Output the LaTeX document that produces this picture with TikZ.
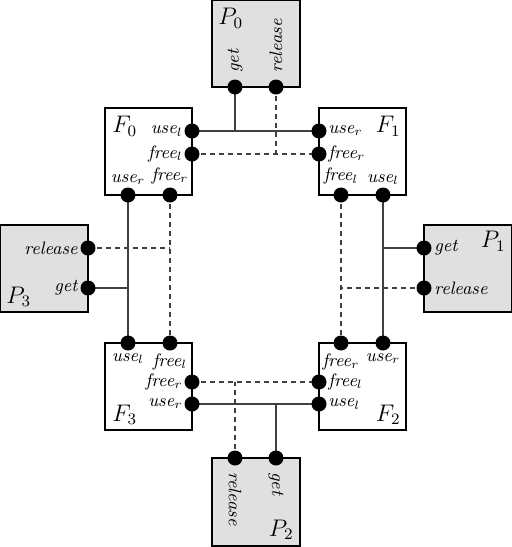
\documentclass[tikz,border=0pt]{standalone}
\usepackage{tikz}
\begin{document}
\begin{tikzpicture}[x=0.5pt,y=-0.5pt,
  fbox/.style={draw=black,fill=white,line width=0.8pt},
  pbox/.style={draw=black,fill=black!12,line width=0.8pt},
  dot/.style={circle,fill=black,inner sep=0pt,minimum size=7.5pt},
  lab/.style={font=\small\itshape,inner sep=1pt},
  big/.style={font=\large,inner sep=1pt},
  sline/.style={black!75,line width=0.6pt},
  dline/.style={black!75,line width=0.6pt,dashed,dash pattern=on 2.5pt off 2pt}]
\useasboundingbox (0,0) rectangle (512,547);
% boxes
\draw[pbox] (212,0) rectangle (300,87);
\draw[fbox] (105,108) rectangle (192,195);
\draw[fbox] (319,108) rectangle (406,195);
\draw[pbox] (0,225) rectangle (88,312);
\draw[pbox] (424,225) rectangle (512,312);
\draw[fbox] (105,343) rectangle (192,430);
\draw[fbox] (319,343) rectangle (406,430);
\draw[pbox] (212,458) rectangle (300,546);
% port coordinates
\coordinate (p0g) at (235,87);  \coordinate (p0r) at (276,87);
\coordinate (f0ul) at (192,131); \coordinate (f0fl) at (192,154);
\coordinate (f0ur) at (128,195); \coordinate (f0fr) at (170,195);
\coordinate (f1ur) at (319,131); \coordinate (f1fr) at (319,154);
\coordinate (f1fl) at (341,195); \coordinate (f1ul) at (383,195);
\coordinate (p3r) at (88,248);   \coordinate (p3g) at (88,288);
\coordinate (p1g) at (424,248);  \coordinate (p1r) at (424,288);
\coordinate (f3ul) at (128,343); \coordinate (f3fl) at (170,343);
\coordinate (f3fr) at (192,382); \coordinate (f3ur) at (192,404);
\coordinate (f2fr) at (341,343); \coordinate (f2ur) at (383,343);
\coordinate (f2fl) at (319,382); \coordinate (f2ul) at (319,404);
\coordinate (p2r) at (235,458);  \coordinate (p2g) at (276,458);
% connectors
\draw[sline] (f0ul) -- (f1ur);
\draw[sline] (p0g) -- (p0g |- f0ul);
\draw[dline] (f0fl) -- (f1fr);
\draw[dline] (p0r) -- (p0r |- f0fl);
\draw[sline] (f0ur) -- (f3ul);
\draw[sline] (p3g) -- (p3g -| f0ur);
\draw[dline] (f0fr) -- (f3fl);
\draw[dline] (p3r) -- (p3r -| f0fr);
\draw[sline] (f1ul) -- (f2ur);
\draw[sline] (p1g) -- (p1g -| f1ul);
\draw[dline] (f1fl) -- (f2fr);
\draw[dline] (p1r) -- (p1r -| f1fl);
\draw[dline] (f3fr) -- (f2fl);
\draw[dline] (p2r) -- (p2r |- f3fr);
\draw[sline] (f3ur) -- (f2ul);
\draw[sline] (p2g) -- (p2g |- f3ur);
% dots
\foreach \c in {p0g,p0r,f0ul,f0fl,f0ur,f0fr,f1ur,f1fr,f1fl,f1ul,p3r,p3g,p1g,p1r,f3ul,f3fl,f3fr,f3ur,f2fr,f2ur,f2fl,f2ul,p2r,p2g}
  \node[dot] (d\c) at (\c) {};
% labels P0
\node[big,anchor=north west] (lP0) at (216,6) {$P_0$};
\node[lab,rotate=90,anchor=west] (lp0g) at (235,75) {get};
\node[lab,rotate=90,anchor=west] (lp0r) at (276,75) {release};
% F0
\node[big,anchor=north west] (lF0) at (110,114) {$F_0$};
\node[lab,anchor=east] (lf0ul) at (185,131) {use$_l$};
\node[lab,anchor=east] (lf0fl) at (185,154) {free$_l$};
\node[lab,anchor=south] (lf0ur) at (128,187) {use$_r$};
\node[lab,anchor=south] (lf0fr) at (170,187) {free$_r$};
% F1
\node[big,anchor=north east] (lF1) at (403,114) {$F_1$};
\node[lab,anchor=west] (lf1ur) at (326,131) {use$_r$};
\node[lab,anchor=west] (lf1fr) at (326,154) {free$_r$};
\node[lab,anchor=south] (lf1fl) at (341,187) {free$_l$};
\node[lab,anchor=south] (lf1ul) at (383,187) {use$_l$};
% P3
\node[big,anchor=south west] (lP3) at (4,309) {$P_3$};
\node[lab,anchor=east] (lp3r) at (80,248) {release};
\node[lab,anchor=east] (lp3g) at (80,288) {get};
% P1
\node[big,anchor=north east] (lP1) at (508,229) {$P_1$};
\node[lab,anchor=west] (lp1g) at (432,248) {get};
\node[lab,anchor=west] (lp1r) at (432,288) {release};
% F3
\node[big,anchor=south west] (lF3) at (110,427) {$F_3$};
\node[lab,anchor=north] (lf3ul) at (128,351) {use$_l$};
\node[lab,anchor=north] (lf3fl) at (170,351) {free$_l$};
\node[lab,anchor=east] (lf3fr) at (185,382) {free$_r$};
\node[lab,anchor=east] (lf3ur) at (185,404) {use$_r$};
% F2
\node[big,anchor=south east] (lF2) at (403,427) {$F_2$};
\node[lab,anchor=north] (lf2fr) at (341,351) {free$_r$};
\node[lab,anchor=north] (lf2ur) at (383,351) {use$_r$};
\node[lab,anchor=west] (lf2fl) at (326,382) {free$_l$};
\node[lab,anchor=west] (lf2ul) at (326,404) {use$_l$};
% P2
\node[big,anchor=south east] (lP2) at (296,542) {$P_2$};
\node[lab,rotate=-90,anchor=west] (lp2r) at (235,470) {release};
\node[lab,rotate=-90,anchor=west] (lp2g) at (276,470) {get};
\end{tikzpicture}
\end{document}
